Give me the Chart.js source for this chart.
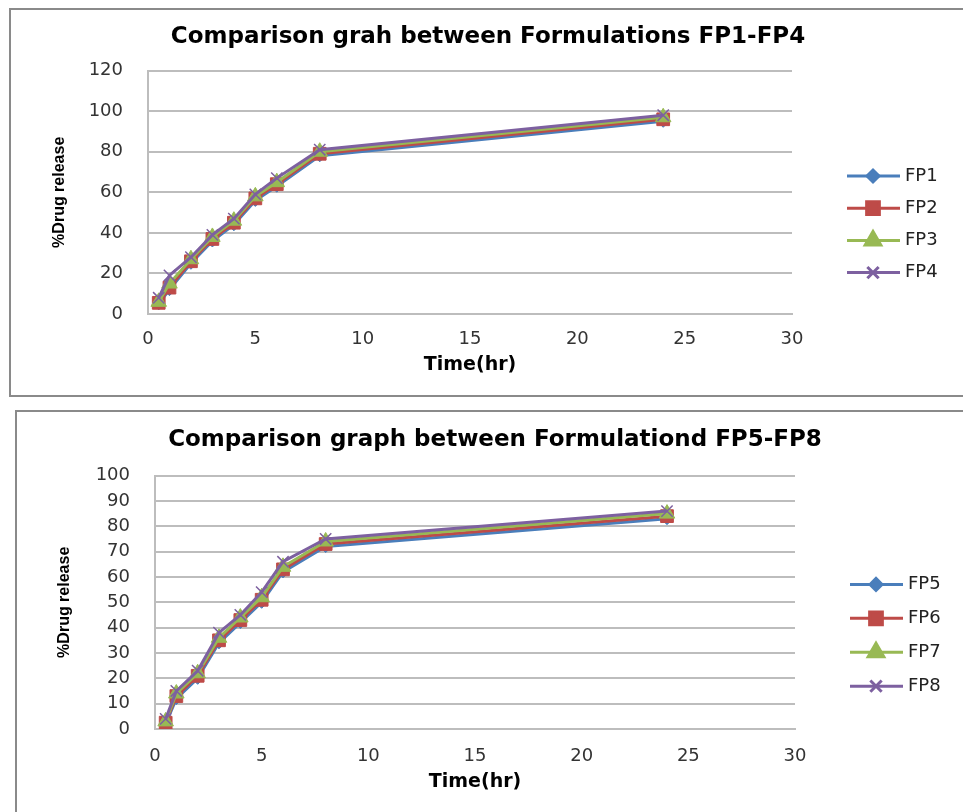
<!DOCTYPE html>
<html>
<head>
<meta charset="utf-8">
<script src="https://cdn.jsdelivr.net/npm/chart.js@4/dist/chart.umd.min.js"></script>
<style>
  body { margin: 0; width: 963px; height: 812px; overflow: hidden; background: #fff; position: relative; }
  .marco { position: absolute; border: 2px solid #8a8a8a; box-sizing: border-box; }
  canvas { position: absolute; left: 0; }
</style>
</head>
<body>
<div class="marco" style="left:9px; top:8px; width:970px; height:389px;"></div>
<div class="marco" style="left:15px; top:410px; width:970px; height:420px;"></div>
<canvas id="graficaArriba" width="963" height="400" style="top:0px"></canvas>
<canvas id="graficaAbajo" width="963" height="412" style="top:400px"></canvas>
<script>
// Datos
let tiempo = [0.5, 1, 2, 3, 4, 5, 6, 8, 24];

let fp1 = [5, 12, 25, 36, 44, 56, 63, 78, 95];
let fp2 = [5.5, 13, 26, 37, 45, 57, 64, 79, 96];
let fp3 = [6, 15, 27, 38, 46, 58, 65, 80, 97];
let fp4 = [8, 19, 28, 39, 47, 59, 67, 81, 98];

let fp5 = [2, 12, 20, 34, 42, 50, 62, 72, 83];
let fp6 = [2.5, 13, 21, 35, 43, 51, 63, 73, 84];
let fp7 = [3, 14, 22, 36, 44, 52, 64, 74, 85];
let fp8 = [4, 15, 23, 38, 45, 54, 66, 75, 86];

let nombresArriba = ["FP1", "FP2", "FP3", "FP4"];
let nombresAbajo = ["FP5", "FP6", "FP7", "FP8"];
let tituloArriba = "Comparison grah between Formulations FP1-FP4";
let tituloAbajo = "Comparison graph between Formulationd FP5-FP8";

// Estilo de cada serie (azul, rojo, verde, morado como Excel)
const colores = ["#4A7EBB", "#BE4B48", "#98B954", "#7D60A0"];
const marcadores = ["rectRot", "rect", "triangle", "crossRot"];
const radios = [6, 9, 9, 8];

function armarSeries(nombres, valores) {
    return nombres.map(function (nombre, i) {
        return {
            label: nombre,
            data: tiempo.map(function (t, j) { return { x: t, y: valores[i][j] }; }),
            borderColor: colores[i],
            backgroundColor: colores[i],
            borderWidth: 3,
            pointStyle: marcadores[i],
            pointRadius: radios[i],
            pointBorderWidth: i === 3 ? 1.5 : 1,
            pointBackgroundColor: colores[i],
            pointBorderColor: colores[i],
            tension: 0,
            order: 4 - i
        };
    });
}

// Leyenda a la derecha: linea + marcador + texto
const leyendaLateral = {
    id: "leyendaLateral",
    afterDraw(chart, args, opts) {
        const ctx = chart.ctx;
        const area = chart.chartArea;
        const series = chart.data.datasets;
        let y = (area.top + area.bottom) / 2 + opts.dy - (series.length - 1) * opts.gap / 2;
        const x0 = area.right + 55;
        ctx.save();
        series.forEach(function (ds) {
            ctx.strokeStyle = ds.borderColor;
            ctx.lineWidth = 3;
            ctx.beginPath();
            ctx.moveTo(x0, y);
            ctx.lineTo(x0 + 53, y);
            ctx.stroke();
            ctx.fillStyle = ds.backgroundColor;
            Chart.helpers.drawPoint(ctx, {
                pointStyle: ds.pointStyle,
                radius: ds.pointRadius,
                rotation: 0,
                borderWidth: ds.pointBorderWidth
            }, x0 + 26, y);
            ctx.fillStyle = "#222";
            ctx.font = "18px 'DejaVu Sans'";
            ctx.textBaseline = "middle";
            ctx.textAlign = "left";
            ctx.fillText(ds.label, x0 + 58, y);
            y += opts.gap;
        });
        ctx.restore();
    }
};

function crearGrafica(id, titulo, series, yMax, yPaso, medidas) {
    const config = {
        type: "line",
        data: { datasets: series },
        options: {
            responsive: false,
            animation: false,
            layout: { padding: medidas.padding },
            plugins: {
                legend: { display: false },
                tooltip: { enabled: false },
                title: {
                    display: true,
                    text: titulo,
                    color: "#000",
                    font: { family: "DejaVu Sans", size: 23, weight: "bold" },
                    padding: medidas.tituloPadding
                },
                leyendaLateral: { dy: medidas.dy, gap: medidas.gap }
            },
            scales: {
                x: {
                    type: "linear",
                    position: "bottom",
                    min: 0,
                    max: 30,
                    ticks: { stepSize: 5, padding: medidas.padTicksX, color: "#333", font: { family: "DejaVu Sans", size: 18 } },
                    grid: { display: false },
                    border: { display: true, color: "#bdbdbd", width: 2 },
                    title: {
                        display: true,
                        text: "Time(hr)",
                        color: "#000",
                        font: { family: "DejaVu Sans", size: 19, weight: "bold" },
                        padding: { top: 4, bottom: 4 }
                    },
                    afterFit: function (s) { s.height = medidas.alturaX; }
                },
                y: {
                    position: "left",
                    min: 0,
                    max: yMax,
                    ticks: { stepSize: yPaso, padding: 25, color: "#333", font: { family: "DejaVu Sans", size: 18 } },
                    grid: { color: "#bdbdbd", lineWidth: 2, drawTicks: false },
                    border: { display: true, color: "#bdbdbd", width: 2 },
                    title: {
                        display: true,
                        text: "%Drug release",
                        color: "#000",
                        font: { family: "Liberation Sans", size: 16, weight: "bold" },
                        padding: { top: 3, bottom: 3 }
                    },
                    afterFit: function (s) { s.width = medidas.anchoY; }
                },
                espacio: {
                    type: "linear",
                    position: "right",
                    display: true,
                    ticks: { display: false },
                    grid: { display: false },
                    border: { display: false },
                    afterFit: function (s) { s.width = medidas.anchoLeyenda; }
                }
            }
        },
        plugins: [leyendaLateral]
    };
    return new Chart(document.getElementById(id), config);
}

crearGrafica("graficaArriba", tituloArriba, armarSeries(nombresArriba, [fp1, fp2, fp3, fp4]), 120, 20, {
    padding: { left: 47, right: 34, top: 13, bottom: 20 },
    tituloPadding: { top: 10, bottom: 20 },
    anchoY: 101,
    anchoLeyenda: 137,
    alturaX: 66,
    padTicksX: 7,
    dy: 32,
    gap: 32.2
});

crearGrafica("graficaAbajo", tituloAbajo, armarSeries(nombresAbajo, [fp5, fp6, fp7, fp8]), 100, 10, {
    padding: { left: 52, right: 25, top: 16, bottom: 15 },
    tituloPadding: { top: 10, bottom: 22 },
    anchoY: 103,
    anchoLeyenda: 143,
    alturaX: 68,
    padTicksX: 9,
    dy: 33,
    gap: 33.9
});
</script>
</body>
</html>
